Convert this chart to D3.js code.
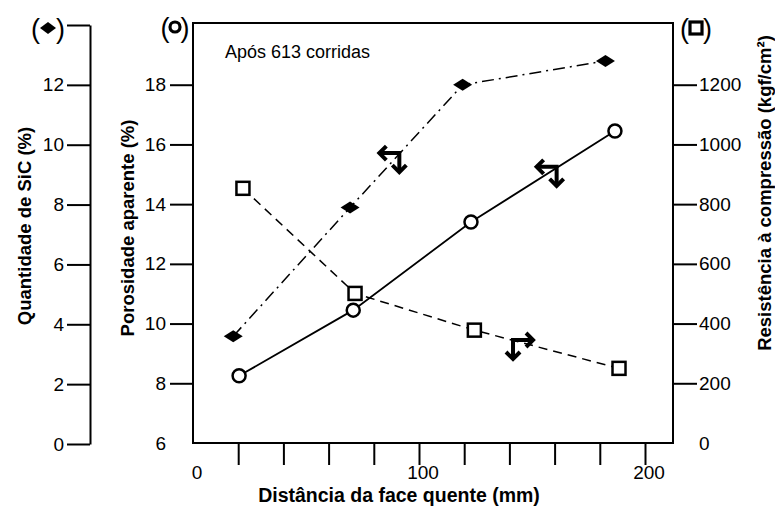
<!DOCTYPE html>
<html>
<head>
<meta charset="utf-8">
<script src="https://cdn.jsdelivr.net/npm/d3@7"></script>
<style>
  html, body { margin: 0; padding: 0; background: #fff; }
  svg { display: block; font-family: "Liberation Sans", Arial, sans-serif; }
  .axis text { font-size: 19px; fill: #000; }
  .axis line, .axis path { stroke: #000; stroke-width: 2; }
  .title { font-weight: bold; fill: #000; }
</style>
</head>
<body>
<svg id="chart" width="775" height="509"></svg>
<script>
// Distance from the hot face (mm) for each measured series
const sicDist = [17.8, 69.5, 119.3, 182.5];
const porDist = [20.4, 70.9, 123.0, 186.7];
const resDist = [22.1, 71.7, 124.5, 188.5];

// SiC content (%), apparent porosity (%), crushing strength (kgf/cm²)
const sicVals = [3.6, 7.9, 12.0, 12.8];
const porVals = [8.25, 10.45, 13.4, 16.45];
const resVals = [853, 501, 378, 250];

// Tick values / labels
const xTicks = [20, 40, 60, 80, 100, 120, 140, 160, 180, 200];
const xLabels = [0, 100, 200];
const sicTicks = [0, 2, 4, 6, 8, 10, 12, 14];
const porTicks = [6, 8, 10, 12, 14, 16, 18];
const resTicks = [0, 200, 400, 600, 800, 1000, 1200];

// Axis-pointer arrows: corner position (mm, porosity %) and which way the arm points
const arrowX = [91.3, 160.9, 141.6];
const arrowY = [15.71, 15.25, 9.45];
const arrowSide = ["left", "left", "right"];

const svg = d3.select("#chart");
const plot = { left: 193, right: 673, top: 23, bottom: 443 };

const x = d3.scaleLinear().domain([0, 200]).range([193, 645]);
const yPor = d3.scaleLinear().domain([6, 20]).range([443, 25]);
const ySic = d3.scaleLinear().domain([0, 14]).range([444, 25]);
const yRes = d3.scaleLinear().domain([0, 1400]).range([443, 25]);

// Frame
svg.append("rect")
  .attr("x", plot.left).attr("y", plot.top)
  .attr("width", plot.right - plot.left).attr("height", plot.bottom - plot.top)
  .attr("fill", "none").attr("stroke", "#000").attr("stroke-width", 2);

// Bottom axis ticks
const gx = svg.append("g").attr("class", "axis")
  .attr("transform", `translate(0,${plot.bottom})`)
  .call(d3.axisBottom(x).tickValues(xTicks).tickSize(22).tickSizeOuter(0).tickFormat(""));
gx.select(".domain").remove();
svg.append("g").attr("class", "axis").selectAll("text")
  .data(xLabels).join("text")
  .attr("x", d => x(d) + 4).attr("y", 479)
  .attr("text-anchor", "middle").text(d => d);

// SiC axis (detached, far left)
svg.append("g").attr("class", "axis")
  .attr("transform", "translate(90,0)")
  .call(d3.axisLeft(ySic).tickValues(sicTicks).tickSize(23).tickSizeOuter(0).tickPadding(3)
    .tickFormat(d => d === 14 ? "" : d));

// Porosity axis (plot's left edge)
const gp = svg.append("g").attr("class", "axis")
  .attr("transform", `translate(${plot.left},0)`)
  .call(d3.axisLeft(yPor).tickValues(porTicks).tickSize(23).tickSizeOuter(0).tickPadding(4));
gp.select(".domain").remove();
gp.selectAll(".tick").filter(d => d === 6).select("line").remove();

// Strength axis (plot's right edge)
const gr = svg.append("g").attr("class", "axis")
  .attr("transform", `translate(${plot.right},0)`)
  .call(d3.axisRight(yRes).tickValues(resTicks).tickSize(24).tickSizeOuter(0).tickPadding(2)
    .tickFormat(d3.format("d")));
gr.select(".domain").remove();
gr.selectAll(".tick").filter(d => d === 0).select("line").remove();

// Series keys in parentheses above each axis
const diamond = "M-9.5,0L0,-6L9.5,0L0,6Z";
function symbolKey(g, kind, cx, cy, half) {
  g.append("text").attr("x", cx - half).attr("y", cy).attr("dy", "0.36em")
    .attr("text-anchor", "middle").attr("font-size", 27).text("(");
  g.append("text").attr("x", cx + half).attr("y", cy).attr("dy", "0.36em")
    .attr("text-anchor", "middle").attr("font-size", 27).text(")");
  if (kind === "diamond") {
    g.append("path").attr("d", "M-8,0L0,-6L8,0L0,6Z").attr("transform", `translate(${cx},${cy})`);
  } else if (kind === "circle") {
    g.append("circle").attr("cx", cx).attr("cy", cy).attr("r", 5)
      .attr("fill", "#fff").attr("stroke", "#000").attr("stroke-width", 3.2);
  } else {
    g.append("rect").attr("x", cx - 6).attr("y", cy - 6).attr("width", 12).attr("height", 12)
      .attr("fill", "#fff").attr("stroke", "#000").attr("stroke-width", 3.2);
  }
}
symbolKey(svg.append("g"), "diamond", 48, 28, 12.5);
symbolKey(svg.append("g"), "circle", 175, 27, 10);
symbolKey(svg.append("g"), "square", 696, 28, 11.5);

// Lines
const sicData = sicDist.map((d, i) => [d, sicVals[i]]);
const porData = porDist.map((d, i) => [d, porVals[i]]);
const resData = resDist.map((d, i) => [d, resVals[i]]);

svg.append("path").datum(sicData)
  .attr("d", d3.line().x(d => x(d[0])).y(d => ySic(d[1])))
  .attr("fill", "none").attr("stroke", "#000").attr("stroke-width", 1.5)
  .attr("stroke-dasharray", "12,5,2,5");
svg.append("path").datum(resData)
  .attr("d", d3.line().x(d => x(d[0])).y(d => yRes(d[1])))
  .attr("fill", "none").attr("stroke", "#000").attr("stroke-width", 1.5)
  .attr("stroke-dasharray", "9,6");
svg.append("path").datum(porData)
  .attr("d", d3.line().x(d => x(d[0])).y(d => yPor(d[1])))
  .attr("fill", "none").attr("stroke", "#000").attr("stroke-width", 1.8);

// Markers
svg.append("g").selectAll("path").data(sicData).join("path")
  .attr("d", diamond).attr("fill", "#000")
  .attr("transform", d => `translate(${x(d[0])},${ySic(d[1])})`);
svg.append("g").selectAll("circle").data(porData).join("circle")
  .attr("cx", d => x(d[0])).attr("cy", d => yPor(d[1])).attr("r", 6.5)
  .attr("fill", "#fff").attr("stroke", "#000").attr("stroke-width", 2.5);
svg.append("g").selectAll("rect").data(resData).join("rect")
  .attr("x", d => x(d[0]) - 6.5).attr("y", d => yRes(d[1]) - 6.5)
  .attr("width", 13).attr("height", 13)
  .attr("fill", "#fff").attr("stroke", "#000").attr("stroke-width", 2.5);

// Bent arrows telling which axis each curve reads against
const arrows = svg.append("g").attr("fill", "none").attr("stroke", "#000")
  .attr("stroke-width", 4).attr("stroke-linejoin", "miter");
arrowX.forEach((ax, i) => {
  const s = arrowSide[i] === "left" ? -1 : 1;
  const g = arrows.append("g").attr("transform", `translate(${x(ax)},${yPor(arrowY[i])})`);
  g.append("path").attr("d", `M${s * 20},0L0,0L0,19`);
  g.append("path").attr("d", `M${s * 13},-7L${s * 20},0L${s * 13},7`);
  g.append("path").attr("d", `M-7,12L0,19L7,12`);
});

// Note
svg.append("text").attr("x", 225).attr("y", 58)
  .attr("font-size", 18).text("Após 613 corridas");

// Axis titles
svg.append("text").attr("class", "title").attr("font-size", 19.5)
  .attr("x", 399).attr("y", 502)
  .attr("text-anchor", "middle").text("Distância da face quente (mm)");
svg.append("text").attr("class", "title").attr("font-size", 18.5)
  .attr("transform", "translate(25,226) rotate(-90)").attr("dy", "0.35em")
  .attr("text-anchor", "middle").text("Quantidade de SiC (%)");
svg.append("text").attr("class", "title").attr("font-size", 18.5)
  .attr("transform", "translate(128,228) rotate(-90)").attr("dy", "0.35em")
  .attr("text-anchor", "middle").text("Porosidade aparente (%)");
svg.append("text").attr("class", "title").attr("font-size", 18.5)
  .attr("transform", "translate(765,193) rotate(-90)").attr("dy", "0.35em")
  .attr("text-anchor", "middle").text("Resistência à compressão (kgf/cm²)");
</script>
</body>
</html>
